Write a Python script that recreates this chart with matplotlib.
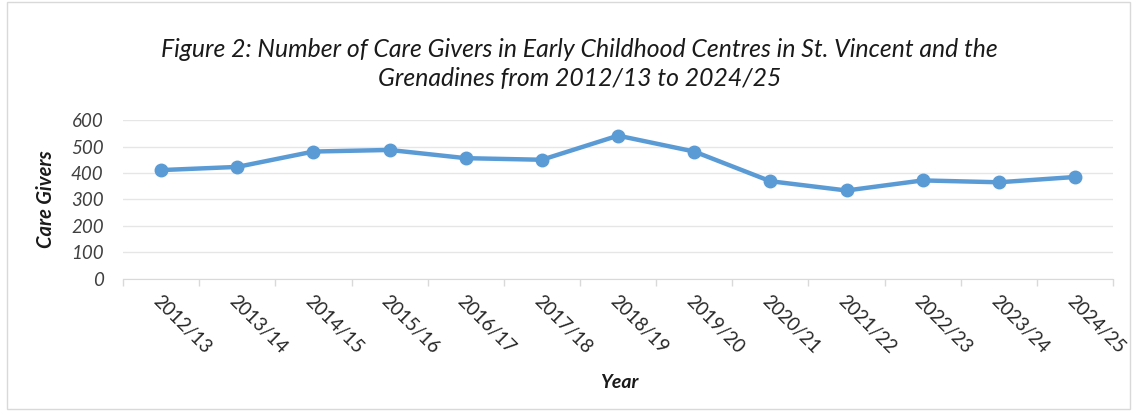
import matplotlib.pyplot as plt
from matplotlib.patches import Rectangle
import numpy as np

years = ['2012/13', '2013/14', '2014/15', '2015/16', '2016/17', '2017/18', '2018/19',
         '2019/20', '2020/21', '2021/22', '2022/23', '2023/24', '2024/25']
care_givers = [411, 423, 481, 487, 456, 450, 541, 481, 369, 334, 372, 365, 385]
y_ticks = [0, 100, 200, 300, 400, 500, 600]

plt.rcParams['font.family'] = ['Lato', 'DejaVu Sans']

fig = plt.figure(figsize=(11.37, 4.13), dpi=100)
ax = fig.add_axes([0.1082, 0.3245, 0.8708, 0.3849])

# border round the whole chart
fig.patches.append(Rectangle((0.006, 0.01), 0.988, 0.985, transform=fig.transFigure,
                             fill=False, edgecolor='#d9d9d9', linewidth=1))

x = np.arange(len(years))
ax.plot(x, care_givers, color='#5b9bd5', linewidth=3.2, marker='o', markersize=9,
        solid_capstyle='round', zorder=3)

ax.set_xlim(-0.5, len(years) - 0.5)
ax.set_ylim(0, 600)
ax.set_yticks(y_ticks)
ax.set_yticklabels([str(v) for v in y_ticks], fontsize=13.5, style='italic', color='#404040')
ax.grid(axis='y', color='#e6e6e6', linewidth=1)
ax.set_axisbelow(True)

# category boundary ticks
ax.set_xticks(np.arange(len(years) + 1) - 0.5)
ax.set_xticklabels([])
ax.tick_params(axis='x', length=5, color='#d9d9d9', width=1)
ax.tick_params(axis='y', length=0, pad=14)
for i, lab in enumerate(years):
    ax.annotate(lab, (i, 0), xycoords=('data', 'axes fraction'), xytext=(-4, -14),
                textcoords='offset points', rotation=-45, rotation_mode='anchor',
                ha='left', va='center', fontsize=13.5, color='#262626')

for s in ['top', 'right', 'left']:
    ax.spines[s].set_visible(False)
ax.spines['bottom'].set_color('#d9d9d9')

ax.set_ylabel('Care Givers', fontsize=14.5, style='italic', fontweight='bold', color='#1a1a1a')
ax.yaxis.set_label_coords(-0.068, 0.5)
fig.text(0.545, 0.073, 'Year', fontsize=14, style='italic', fontweight='bold',
         color='#1a1a1a', ha='center', va='center')

fig.text(0.51, 0.845, 'Figure 2: Number of Care Givers in Early Childhood Centres in St. Vincent and the\n'
         'Grenadines from 2012/13 to 2024/25', fontsize=17.8, style='italic', ha='center',
         va='center', linespacing=1.35, color='#1a1a1a')

fig.savefig('out.png', dpi=100)
